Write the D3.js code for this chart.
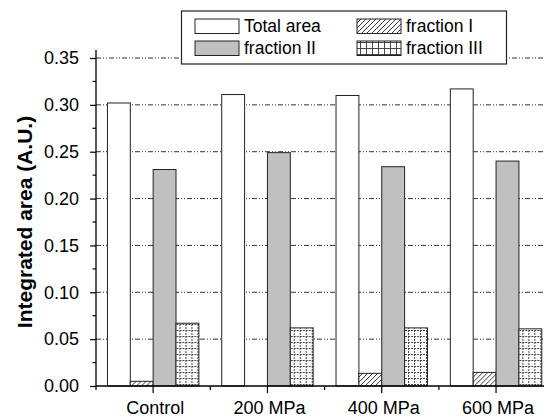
<!DOCTYPE html>
<html><head><meta charset="utf-8">
<script src="https://cdn.jsdelivr.net/npm/d3@7/dist/d3.min.js"></script>
<style>body{margin:0;background:#fff}svg{display:block}</style>
</head><body>
<svg id="c" width="544" height="417"></svg>
<script>
const categories = ["Control", "200 MPa", "400 MPa", "600 MPa"];
const seriesNames = ["Total area", "fraction I", "fraction II", "fraction III"];
const totalArea = [0.302, 0.311, 0.310, 0.317];
const fractionI = [0.005, 0.000, 0.0135, 0.0145];
const fractionII = [0.231, 0.249, 0.234, 0.240];
const fractionIII = [0.067, 0.062, 0.062, 0.061];
const yTicks = [0.00, 0.05, 0.10, 0.15, 0.20, 0.25, 0.30, 0.35];
const values = [totalArea, fractionI, fractionII, fractionIII];

const svg = d3.select("#c");
const FONT = "'Liberation Sans', Arial, sans-serif";
const x0 = 96, y0 = 386;
const step = 114.3;
const x = d3.scaleBand().domain(categories).range([x0, x0 + step * categories.length]).padding(0);
const inner = d3.scaleBand().domain(seriesNames).range([0, step * 0.8]);
const y = d3.scaleLinear().domain([0, 0.35]).range([y0, 58]);

const defs = svg.append("defs");
const p1 = defs.append("pattern").attr("id", "hatch").attr("patternUnits", "userSpaceOnUse")
  .attr("width", 5).attr("height", 5);
p1.append("rect").attr("width", 5).attr("height", 5).attr("fill", "#fff");
p1.append("path").attr("d", "M-1,1 l2,-2 M0,5 l5,-5 M4,6 l2,-2").attr("stroke", "#222").attr("stroke-width", 0.9);
function gridPattern(id, dash) {
  const p = defs.append("pattern").attr("id", id).attr("patternUnits", "userSpaceOnUse")
    .attr("width", 6).attr("height", 6);
  p.append("rect").attr("width", 6).attr("height", 6).attr("fill", "#fff");
  p.append("path").attr("d", "M0,0.5 H6 M0.5,0 V6").attr("stroke", "#333").attr("stroke-width", 0.9)
    .attr("stroke-dasharray", dash);
}
gridPattern("gridBar", "2,1");
gridPattern("gridLeg", null);
const fills = ["#fff", "url(#hatch)", "#c0c0c0", "url(#gridBar)"];
const legFills = ["#fff", "url(#hatch)", "#c0c0c0", "url(#gridLeg)"];

// gridlines
svg.append("g").selectAll("line").data(yTicks.filter(d => d > 0)).join("line")
  .attr("x1", x0).attr("x2", 544).attr("y1", d => y(d)).attr("y2", d => y(d))
  .attr("stroke", "#333").attr("stroke-width", 1).attr("stroke-dasharray", "5,2,1,2,1,2");

// bars
const groups = svg.append("g").selectAll("g").data(categories).join("g")
  .attr("transform", c => `translate(${x(c) + step * 0.1},0)`);
groups.selectAll("rect").data((c, i) => seriesNames.map((s, k) => ({s, k, v: values[k][i]})).filter(d => d.v > 0))
  .join("rect")
  .attr("x", d => inner(d.s)).attr("width", inner.bandwidth())
  .attr("y", d => y(d.v)).attr("height", d => y0 - y(d.v))
  .attr("fill", d => fills[d.k]).attr("stroke", "#222").attr("stroke-width", 1);

// y axis
const yAxis = svg.append("g").attr("transform", `translate(${x0},0)`);
yAxis.append("line").attr("x1", 0).attr("x2", 0).attr("y1", 50).attr("y2", y0).attr("stroke", "#000").attr("stroke-width", 1.3);
const yg = yAxis.append("g").call(d3.axisLeft(y).tickValues(yTicks).tickFormat(d3.format(".2f")).tickSize(6).tickPadding(11));
yg.select(".domain").remove();
yg.selectAll("text").attr("font-family", FONT).attr("font-size", 18).attr("fill", "#000");
yg.selectAll("line").attr("stroke", "#000").attr("stroke-width", 1.2);
const yMinor = d3.range(0.025, 0.35, 0.05);
yAxis.append("g").selectAll("line").data(yMinor).join("line")
  .attr("x1", -3.5).attr("x2", 0).attr("y1", d => y(d)).attr("y2", d => y(d)).attr("stroke", "#000").attr("stroke-width", 1.2);

// x axis
const xAxis = svg.append("g").attr("transform", `translate(0,${y0})`);
xAxis.append("line").attr("x1", x0).attr("x2", 544).attr("stroke", "#000").attr("stroke-width", 1.3);
const xg = xAxis.append("g").call(d3.axisBottom(x).tickSize(7).tickPadding(8));
xg.select(".domain").remove();
xg.selectAll("text").attr("font-family", FONT).attr("font-size", 18).attr("fill", "#000").attr("dx", 2);
xg.selectAll("line").attr("stroke", "#000").attr("stroke-width", 1.2);
xAxis.append("g").selectAll("line").data(categories).join("line")
  .attr("x1", c => x(c)).attr("x2", c => x(c)).attr("y1", 0).attr("y2", 4).attr("stroke", "#000").attr("stroke-width", 1.2);

// y label
svg.append("text").attr("transform", `translate(32,${(y0 + 58) / 2}) rotate(-90)`)
  .attr("text-anchor", "middle").attr("font-family", FONT).attr("font-weight", "bold")
  .attr("font-size", 21).text("Integrated area (A.U.)");

// legend
const leg = svg.append("g");
leg.append("rect").attr("x", 181.5).attr("y", 11).attr("width", 325).attr("height", 53)
  .attr("fill", "#fff").attr("stroke", "#222").attr("stroke-width", 1.2);
const legPos = [[195, 19], [357, 19], [195, 41], [357, 41]];
seriesNames.forEach((s, k) => {
  const [lx, ly] = legPos[k];
  leg.append("rect").attr("x", lx).attr("y", ly).attr("width", 44).attr("height", 14.5)
    .attr("fill", legFills[k]).attr("stroke", "#222").attr("stroke-width", 1);
  leg.append("text").attr("x", lx + 49).attr("y", ly + 13).attr("font-family", FONT)
    .attr("font-size", 17.5).text(s);
});
</script>
</body></html>
